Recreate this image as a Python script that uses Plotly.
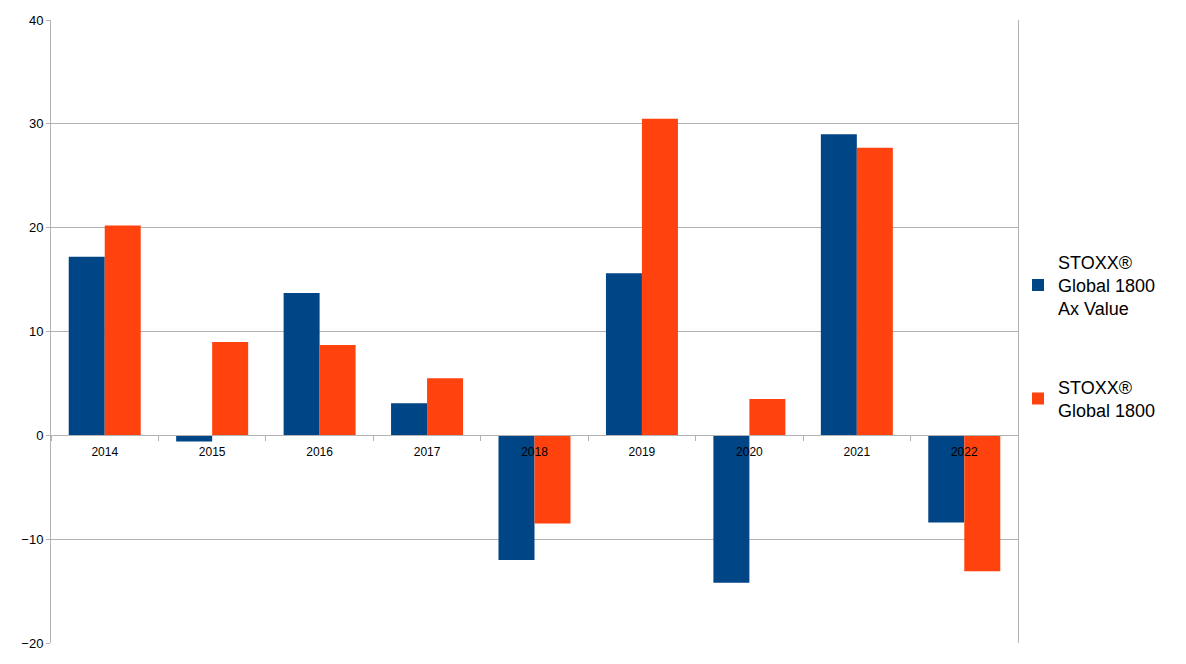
import plotly.graph_objects as go

years = ["2014", "2015", "2016", "2017", "2018", "2019", "2020", "2021", "2022"]
ax_value = [17.2, -0.6, 13.7, 3.1, -12.0, 15.6, -14.2, 29.0, -8.4]
global1800 = [20.2, 9.0, 8.7, 5.5, -8.5, 30.5, 3.5, 27.7, -13.1]
series_names = ["STOXX®<br>Global 1800<br>Ax Value", "STOXX®<br>Global 1800"]
colors = ["#004586", "#ff420e"]

y_min, y_max = -20, 40

fig = go.Figure()
fig.add_trace(go.Bar(x=years, y=ax_value, name=series_names[0], marker_color=colors[0],
                     marker_line_width=0, legendgroup="a"))
fig.add_trace(go.Bar(x=years, y=global1800, name=series_names[1], marker_color=colors[1],
                     marker_line_width=0, legendgroup="b"))

grid = "#b3b3b3"
fig.update_layout(
    width=1186, height=664,
    margin=dict(l=43, r=176, t=12, b=29, autoexpand=False),
    paper_bgcolor="white", plot_bgcolor="white",
    barmode="group", bargap=0.33, bargroupgap=0,
    font=dict(family="Liberation Sans, Arial, sans-serif", color="#000000"),
    showlegend=True,
    legend=dict(x=1.0, xanchor="left", y=0.493, yanchor="middle",
                font=dict(size=18, color="#000000"),
                traceorder="grouped", tracegroupgap=52,
                itemwidth=30, bgcolor="rgba(0,0,0,0)"),
    xaxis=dict(type="category", range=[-0.5, len(years) - 0.5],
               anchor="free", position=(0 - y_min) / (y_max - y_min),
               showline=True, linecolor=grid, linewidth=1,
               ticks="outside", ticklen=5, tickcolor=grid, tickson="boundaries",
               showgrid=False, zeroline=False, automargin=False,
               ticklabelstandoff=5,
               tickfont=dict(size=12, color="#000000"),
               layer="above traces"),
    yaxis=dict(range=[y_min, y_max], dtick=10, showgrid=True, gridcolor=grid, gridwidth=1,
               zeroline=False, showline=True, linecolor=grid, linewidth=1, mirror=True,
               ticks="outside", ticklen=4, tickcolor=grid, automargin=False,
               tickfont=dict(size=13, color="#000000")),
)

fig.write_html("out.html")
